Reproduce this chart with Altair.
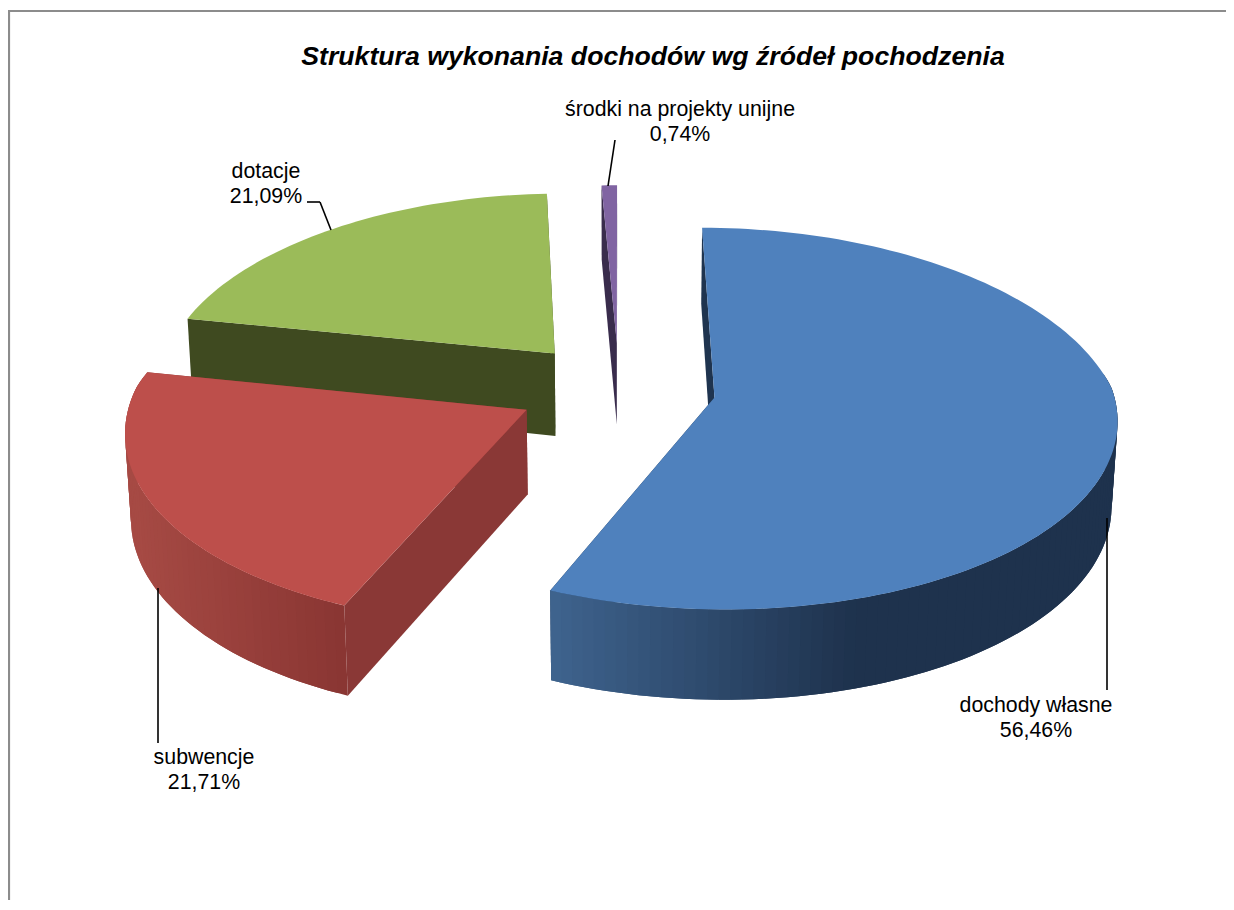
import math
import altair as alt

categories = ["dochody własne", "subwencje", "dotacje", "środki na projekty unijne"]
shares = [56.46, 21.71, 21.09, 0.74]
share_labels = ["56,46%", "21,71%", "21,09%", "0,74%"]
title_text = "Struktura wykonania dochodów wg źródeł pochodzenia"

# style and layout
W, H_PAGE = 1218, 892
OFF = 8
top_col = ["#4f81bd", "#bd4f4b", "#9bbb59", "#8064a2"]
inner_col = ["#1f344f", "#8a3836", "#3f4a20", "#392c4c"]
wall_grad = [("#3f648f", "#1e324d", 552, 860), ("#a64a44", "#8a3633", 135, 345),
             ("#3f4a20", "#3f4a20", 0, 1), ("#392c4c", "#392c4c", 0, 1)]
nudge_x = [0.5, -4.0, -1.5, 1.0]
stretch_x = [1.0, 0.99, 1.0, 1.0]
CX, CY, A, B, HT, M, EXPL = 618.0, 388.0, 398.0, 190.0, 85.0, 0.012, 0.245


def proj(u, v, z):
    wx = 1 + (0.15 if v > 0 else 0.10) * v + M * z
    wy = 1 + (0.134 if v > 0 else 0.095) * v + M * z
    return [CX + A * u / wx - OFF, CY - B * v / wy + HT * z / wy - OFF]


def hexmix(a, b, t):
    t = max(0.0, min(1.0, t))
    ca = [int(a[i:i + 2], 16) for i in (1, 3, 5)]
    cb = [int(b[i:i + 2], 16) for i in (1, 3, 5)]
    return "#" + "".join(f"{round(x + (y - x) * t):02x}" for x, y in zip(ca, cb))


def feature(points, color):
    return {"type": "Feature", "properties": {"fill": color},
            "geometry": {"type": "Polygon", "coordinates": [points + [points[0]]]}}


def slice_features(i, start, end):
    mid = math.radians((start + end) / 2)
    ox, oy = EXPL * math.sin(mid), EXPL * math.cos(mid)
    n = max(3, int((end - start) / 1.5))
    angs = [math.radians(start + (end - start) * j / n) for j in range(n + 1)]
    rim = [(ox + math.sin(a), oy + math.cos(a)) for a in angs]
    apex_x = proj(ox, oy, 0)[0]

    def P(r, z):
        x, y = proj(r[0], r[1], z)
        return [round(apex_x + (x - apex_x) * stretch_x[i] + nudge_x[i], 2), round(y, 2)]

    c = (ox, oy)
    out = []
    # inner walls
    for r in (rim[-1], rim[0]):
        out.append(feature([P(c, 0), P(r, 0), P(r, 1), P(c, 1)], inner_col[i]))
    # rim wall strips, each overlapping the next so that no seams show; back-facing ones are skipped
    c0, c1, x0, x1 = wall_grad[i]
    for j in range(n):
        if math.cos(angs[j]) > 0.15:
            continue
        last = min(j + 2, n)
        span = rim[j:last + 1]
        poly = [P(r, 0) for r in span] + [P(r, 1) for r in reversed(span)]
        sx = poly[0][0] + OFF
        out.append(feature(poly, hexmix(c0, c1, (sx - x0) / (x1 - x0))))
    # top face
    out.append(feature([P(c, 0)] + [P(r, 0) for r in rim], top_col[i]))
    return out


bounds = []
acc = 0.0
for s in shares:
    bounds.append((acc * 3.6, (acc + s) * 3.6))
    acc += s

features = []
for i in (2, 3, 1, 0):
    features += slice_features(i, *bounds[i])

pie = alt.Chart(alt.Data(values={"type": "FeatureCollection", "features": features},
                         format=alt.DataFormat(property="features", type="json"))).mark_geoshape(
    strokeWidth=0
).encode(
    fill=alt.Fill("properties.fill:N", scale=None, legend=None),
    order=alt.Order("index:Q"),
).transform_window(index="row_number()").project(
    type="identity", scale=1, translate=[0, 0]
)


def seg(x1, y1, x2, y2, color="#000000", width=1.6):
    return alt.Chart(alt.Data(values=[{"a": 0}])).mark_rule(color=color, strokeWidth=width).encode(
        x=alt.value(x1 - OFF), x2=alt.value(x2 - OFF), y=alt.value(y1 - OFF), y2=alt.value(y2 - OFF))


def text(s, x, y, size=21.33, **kw):
    return alt.Chart(alt.Data(values=[{"t": s}])).mark_text(
        font="Liberation Sans", fontSize=size, color="#000000", align="center", baseline="middle", **kw
    ).encode(x=alt.value(x - OFF), y=alt.value(y - OFF), text="t:N")


frame = [seg(9, 11, 1234, 11, "#8c8c8c", 2.2), seg(9, 10, 9, 910, "#8c8c8c", 2.2)]
leaders = [
    seg(1107, 518, 1107, 690),
    seg(158, 588, 158, 743),
    seg(307, 202, 320, 202), seg(320, 202, 331, 230),
    seg(615, 140, 608, 186),
]
label_pos = [(1036, 706), (204, 758), (266, 172), (680, 110)]
labels = []
for c, p, (x, y) in zip(categories, share_labels, label_pos):
    labels += [text(c, x, y), text(p, x, y + 25)]

chart = alt.layer(
    pie, *frame, *leaders, *labels,
    text(title_text, 653, 57, size=26.67, fontWeight="bold", fontStyle="italic"),
).properties(width=W, height=H_PAGE, padding=0, background="white",
             view=alt.ViewConfig(stroke=None), autosize=alt.AutoSizeParams(type="none"))

chart.save("out.html", embed_options={"renderer": "svg", "actions": False})
